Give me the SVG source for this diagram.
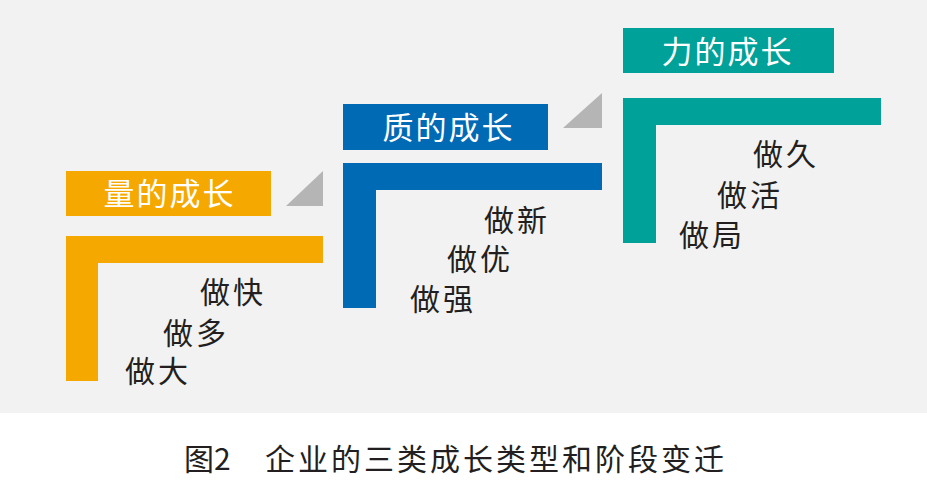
<svg xmlns="http://www.w3.org/2000/svg" width="927" height="484" viewBox="0 0 927 484">
<style>
.t{font-family:"Noto Sans CJK SC","Noto Sans",sans-serif;}
.lbl{font-size:31px;fill:#ffffff;letter-spacing:2px;text-anchor:middle;}
.item{font-size:30px;fill:#231f20;letter-spacing:3px;}
.cap{font-size:30px;fill:#231f20;}
.tri{fill:#b5b5b5;}
.or{fill:#f5a800;}
.bl{fill:#006ab5;}
.te{fill:#00a199;}
</style>
<rect x="0" y="0" width="927" height="413" fill="#f2f2f2"/>
<rect x="0" y="413" width="927" height="71" fill="#ffffff"/>
<g id="connectors">
<polygon class="tri" points="286,206 323,171 323,206"/>
<polygon class="tri" points="563,128 602,93 602,128"/>
</g>
<g id="node-quantity">
<rect class="or" x="66" y="171" width="205" height="45"/>
<text class="t lbl" x="169.5" y="205">量的成长</text>
<path class="or" d="M66,236 H323 V263 H98 V381 H66 Z"/>
<text class="t item" x="200" y="303">做快</text>
<text class="t item" x="163" y="344">做多</text>
<text class="t item" x="125" y="382">做大</text>
</g>
<g id="node-quality">
<rect class="bl" x="343" y="104" width="205" height="46"/>
<text class="t lbl" x="448.5" y="139">质的成长</text>
<path class="bl" d="M343,163 H602 V190 H376 V308 H343 Z"/>
<text class="t item" x="484" y="231">做新</text>
<text class="t item" x="447" y="270">做优</text>
<text class="t item" x="410" y="310">做强</text>
</g>
<g id="node-power">
<rect class="te" x="623" y="28" width="211" height="45"/>
<text class="t lbl" x="727.5" y="63">力的成长</text>
<path class="te" d="M623,98 H881 V125 H656 V243 H623 Z"/>
<text class="t item" x="753" y="165">做久</text>
<text class="t item" x="717" y="206">做活</text>
<text class="t item" x="679" y="246">做局</text>
</g>
<g id="caption">
<text class="t cap" x="184" y="470">图2</text>
<text class="t cap" x="265" y="470" letter-spacing="3">企业的三类成长类型和阶段变迁</text>
</g>
</svg>
